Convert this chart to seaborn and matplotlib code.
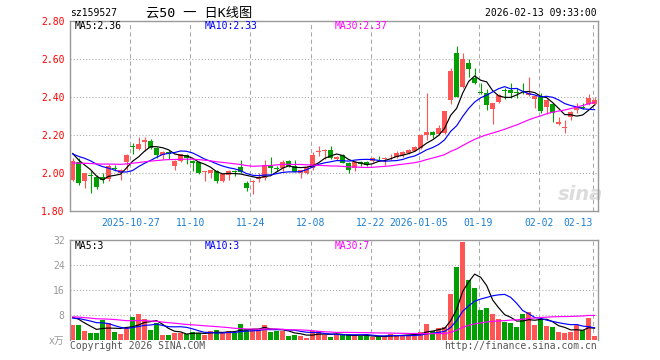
import numpy as np
import pandas as pd
import matplotlib
matplotlib.use('Agg')
import matplotlib.pyplot as plt
import seaborn as sns

sns.set_theme(style='white')
plt.rcParams['font.family'] = ['DejaVu Sans Mono', 'Noto Sans CJK SC']
plt.rcParams['axes.unicode_minus'] = False

# ---------------- data ----------------
code = 'sz159527'
title = '云50 一 日K线图'
timestamp = '2026-02-13 09:33:00'

open_ = [1.965, 2.058, 1.96, 1.99, 1.98, 1.98, 1.97, 2.03, 2.00, 2.06,
         2.145, 2.128, 2.165, 2.172, 2.135, 2.097, 2.113, 2.04, 2.066, 2.096,
         2.066, 2.06, 2.005, 2.003, 2.012, 1.96, 1.99, 2.013, 2.035, 1.95,
         1.955, 1.97, 1.975, 2.04, 2.028, 2.03, 2.065, 2.038, 2.003, 2.00,
         2.026, 2.11, 2.12, 2.123, 2.075, 2.096, 2.053, 2.026, 2.06, 2.06,
         2.066, 2.082, 2.077, 2.094, 2.084, 2.096, 2.108, 2.12, 2.132, 2.20,
         2.22, 2.207, 2.21, 2.386, 2.635, 2.456, 2.582, 2.503, 2.43, 2.421,
         2.337, 2.374, 2.437, 2.438, 2.428, 2.45, 2.412, 2.39, 2.403, 2.35,
         2.363, 2.258, 2.24, 2.298, 2.333, 2.348, 2.363, 2.363]
close = [2.065, 1.947, 2.00, 1.985, 1.93, 1.965, 2.04, 2.025, 2.017, 2.095,
         2.14, 2.155, 2.175, 2.135, 2.095, 2.114, 2.10, 2.066, 2.10, 2.078,
         2.053, 2.00, 2.01, 2.02, 1.96, 1.995, 2.012, 2.006, 2.008, 1.925,
         1.96, 1.98, 2.044, 2.026, 2.025, 2.06, 2.04, 2.008, 2.017, 2.035,
         2.096, 2.12, 2.125, 2.08, 2.087, 2.056, 2.017, 2.061, 2.048, 2.045,
         2.082, 2.079, 2.08, 2.097, 2.105, 2.114, 2.123, 2.137, 2.20, 2.22,
         2.20, 2.24, 2.328, 2.538, 2.403, 2.60, 2.547, 2.474, 2.425, 2.36,
         2.368, 2.412, 2.433, 2.425, 2.424, 2.447, 2.424, 2.405, 2.328, 2.386,
         2.316, 2.272, 2.243, 2.324, 2.35, 2.345, 2.398, 2.386]
high = [2.08, 2.08, 2.00, 2.01, 1.99, 2.00, 2.05, 2.045, 2.025, 2.10,
        2.16, 2.19, 2.19, 2.18, 2.14, 2.115, 2.125, 2.07, 2.10, 2.10,
        2.07, 2.065, 2.01, 2.02, 2.015, 2.00, 2.02, 2.02, 2.07, 1.96,
        1.965, 2.00, 2.07, 2.088, 2.04, 2.07, 2.068, 2.07, 2.02, 2.04,
        2.114, 2.145, 2.13, 2.145, 2.09, 2.10, 2.06, 2.065, 2.065, 2.063,
        2.085, 2.09, 2.085, 2.10, 2.115, 2.12, 2.13, 2.145, 2.205, 2.425,
        2.222, 2.255, 2.33, 2.553, 2.67, 2.632, 2.60, 2.556, 2.474, 2.442,
        2.37, 2.415, 2.447, 2.477, 2.447, 2.477, 2.508, 2.41, 2.421, 2.39,
        2.37, 2.298, 2.28, 2.33, 2.37, 2.37, 2.416, 2.40]
low = [1.96, 1.94, 1.925, 1.898, 1.92, 1.95, 1.96, 2.01, 1.965, 2.02,
       2.10, 2.125, 2.12, 2.13, 2.08, 2.075, 2.075, 2.017, 2.06, 2.05,
       2.01, 1.995, 1.96, 1.976, 1.95, 1.953, 1.965, 1.985, 2.003, 1.907,
       1.89, 1.955, 1.965, 2.00, 2.01, 2.01, 2.035, 2.005, 1.977, 1.995,
       2.02, 2.09, 2.075, 2.075, 2.068, 2.052, 2.00, 2.01, 2.04, 2.04,
       2.06, 2.07, 2.045, 2.07, 2.08, 2.085, 2.10, 2.115, 2.13, 2.175,
       2.187, 2.20, 2.205, 2.363, 2.40, 2.45, 2.505, 2.47, 2.417, 2.333,
       2.258, 2.37, 2.39, 2.395, 2.395, 2.42, 2.405, 2.342, 2.319, 2.31,
       2.272, 2.255, 2.214, 2.28, 2.32, 2.34, 2.36, 2.36]
volume = [4.9, 4.9, 3.0, 2.3, 2.3, 6.5, 5.5, 2.7, 2.0, 3.9,
          7.5, 8.4, 6.8, 3.3, 5.5, 1.7, 1.7, 2.3, 2.3, 2.0,
          2.7, 2.3, 1.7, 3.0, 3.3, 2.3, 3.0, 2.3, 5.2, 3.6,
          3.6, 3.3, 4.9, 2.7, 3.0, 3.0, 1.4, 1.7, 1.4, 0.8,
          3.0, 3.0, 1.7, 1.0, 1.7, 2.0, 1.7, 1.4, 1.4, 1.4,
          1.0, 1.0, 1.4, 2.1, 1.7, 1.7, 1.7, 2.0, 2.8, 5.2,
          3.0, 3.9, 4.3, 14.8, 23.5, 31.5, 19.3, 16.8, 9.7, 10.3,
          8.4, 6.8, 5.8, 5.5, 4.3, 8.4, 9.0, 4.9, 6.8, 4.6,
          4.3, 2.7, 2.3, 2.7, 4.9, 3.3, 7.0, 1.4]

# closes / volumes before the visible window (estimated, used only for moving averages)
prior_close = [2.00, 2.01, 2.02, 1.99, 2.00, 2.03, 2.05, 2.04, 2.02, 2.03,
               2.06, 2.05, 2.03, 2.01, 2.02, 2.04, 2.05, 2.07, 2.06, 2.04,
               2.08, 2.10, 2.12, 2.11, 2.09, 2.12, 2.13, 2.11, 2.10]
prior_volume = [7.0, 8.5, 6.5, 9.0, 7.5, 8.0, 6.0, 7.5, 9.5, 8.0,
                7.0, 6.5, 8.5, 7.5, 9.0, 8.0, 7.0, 8.5, 7.5, 7.0,
                6.0, 7.0, 6.5, 7.5, 7.0, 8.0, 9.0, 7.5, 7.5]

holidays = ['2026-01-01', '2026-01-02']
tick_dates = ['2025-10-27', '2025-11-10', '2025-11-24', '2025-12-08', '2025-12-22',
              '2026-01-05', '2026-01-19', '2026-02-02', '2026-02-13']
tick_labels = ['2025-10-27', '11-10', '11-24', '12-08', '12-22',
               '2026-01-05', '01-19', '02-02', '02-13']
price_ticks = [1.80, 2.00, 2.20, 2.40, 2.60, 2.80]
vol_ticks = [0, 8, 16, 24, 32]
vol_tick_labels = ['x万', '8', '16', '24', '32']

ma_price_labels = ['MA5:2.36', 'MA10:2.33', 'MA30:2.37']
ma_vol_labels = ['MA5:3', 'MA10:3', 'MA30:7']

# ---------------- prep ----------------
dates = pd.bdate_range('2025-10-13', '2026-02-13')
dates = dates[~dates.isin(pd.to_datetime(holidays))]
n = len(close)
idx = np.arange(n)
o = np.array(open_); c = np.array(close); h = np.array(high); l = np.array(low)
v = np.array(volume)
up = c >= o
RED = '#ff5555'
GREEN = '#00a000'
cols = np.where(up, RED, GREEN)

allc = pd.Series(prior_close + close)
allv = pd.Series(prior_volume + volume)
k = len(prior_close)
ma = {w: allc.rolling(w).mean().values[k:] for w in (5, 10, 30)}
vma = {w: allv.rolling(w).mean().values[len(prior_volume):] for w in (5, 10, 30)}
ma_colors = {5: '#000000', 10: '#0000ff', 30: '#ff00ff'}

tick_pos = [int(np.where(dates == pd.Timestamp(d))[0][0]) for d in tick_dates]
GRID_OFF = -0.35

# ---------------- figure ----------------
W, H = 660, 360
fig = plt.figure(figsize=(W / 100, H / 100), dpi=100)


def rect(lft, top, rgt, bot):
    return [lft / W, 1 - bot / H, (rgt - lft) / W, (bot - top) / H]


ax = fig.add_axes(rect(70.3, 21.3, 597.7, 211.3))
axv = fig.add_axes(rect(70.3, 240.3, 597.7, 340.3))

XL = (-0.37, 87.5)
GRID_C = '#a8a8a8'
SPINE_C = '#999999'

for p in tick_pos:
    ax.axvline(p + GRID_OFF, color=GRID_C, ls=(0, (4, 3)), lw=0.75, zorder=0.5)
    axv.axvline(p + GRID_OFF, color=GRID_C, ls=(0, (4, 3)), lw=0.75, zorder=0.5)
for y in price_ticks[1:-1]:
    ax.axhline(y, color=GRID_C, ls=(0, (1, 2)), lw=0.75, zorder=0.5)
for y in vol_ticks[1:-1]:
    axv.axhline(y, color=GRID_C, ls=(0, (1, 2)), lw=0.75, zorder=0.5)

# candles
ax.vlines(idx, l, h, colors=cols, lw=0.8, zorder=2)
body_bot = np.minimum(o, c)
body_h = np.maximum(np.abs(c - o), 0.004)
ax.bar(idx, body_h, bottom=body_bot, width=0.74, color=cols, linewidth=0, zorder=2)

for w in (5, 10, 30):
    sns.lineplot(x=idx, y=ma[w], ax=ax, color=ma_colors[w], linewidth=0.85, zorder=3)

ax.set_xlim(*XL)
ax.set_ylim(1.80, 2.80)
ax.set_yticks(price_ticks)
ax.set_yticklabels([f'{t:.2f}' for t in price_ticks])
ax.set_xticks([p + GRID_OFF for p in tick_pos])
ax.set_xticklabels(tick_labels)
ax.tick_params(axis='y', colors='#ff0000', length=0, pad=4, labelsize=7)
ax.tick_params(axis='x', colors='#1a7fd4', length=0, pad=4.5, labelsize=7)
ax.get_xticklabels()[-1].set_ha('right')
ax.set_xlabel(''); ax.set_ylabel('')
for s in ax.spines.values():
    s.set_color(SPINE_C); s.set_linewidth(1.0)

ax.text(0.968, 0.09, 'sina', transform=ax.transAxes, ha='center', va='center',
        fontsize=14, fontweight='bold', style='italic', color='#dcdcdc',
        family=['DejaVu Sans'], zorder=1)

# volume panel
vdf = pd.DataFrame({'i': idx, 'vol': v, 'kind': np.where(up, 'up', 'down')})
sns.barplot(data=vdf, x='i', y='vol', hue='kind', palette={'up': RED, 'down': GREEN},
            dodge=False, width=0.74, saturation=1, legend=False, linewidth=0,
            ax=axv, zorder=2)
for w in (5, 10, 30):
    sns.lineplot(x=idx, y=vma[w], ax=axv, color=ma_colors[w], linewidth=0.85, zorder=3)
axv.set_xlim(*XL)
axv.set_ylim(0, 32)
axv.set_xticks([])
axv.set_yticks(vol_ticks)
axv.set_yticklabels(vol_tick_labels)
axv.tick_params(axis='y', colors='#999999', length=0, pad=4, labelsize=7)
axv.set_xlabel(''); axv.set_ylabel('')
for name, s in axv.spines.items():
    s.set_color(SPINE_C); s.set_linewidth(1.0)
axv.spines['bottom'].set_visible(False)

# texts
fs = 7
fig.text(70 / W, 1 - 12.8 / H, code, ha='left', va='center', fontsize=fs, color='black')
fig.text(199 / W, 1 - 12.8 / H, title, ha='center', va='center', fontsize=9.5,
         color='black', family=['DejaVu Sans Mono', 'Noto Sans CJK SC'])
fig.text(597 / W, 1 - 12.6 / H, timestamp, ha='right', va='center', fontsize=fs, color='black')
for xp, lab, w in zip((74.5, 204.3, 334.7), ma_price_labels, (5, 10, 30)):
    fig.text(xp / W, 1 - 26 / H, lab, ha='left', va='center', fontsize=fs, color=ma_colors[w])
for xp, lab, w in zip((74.5, 204.3, 334.7), ma_vol_labels, (5, 10, 30)):
    fig.text(xp / W, 1 - 246.3 / H, lab, ha='left', va='center', fontsize=fs, color=ma_colors[w])
fig.text(70 / W, 1 - 345.8 / H, 'Copyright 2026 SINA.COM', ha='left', va='center',
         fontsize=fs, color='#555555')
fig.text(597 / W, 1 - 345.8 / H, 'http://finance.sina.com.cn', ha='right', va='center',
         fontsize=fs, color='#555555')

fig.savefig('out.png', dpi=100)
